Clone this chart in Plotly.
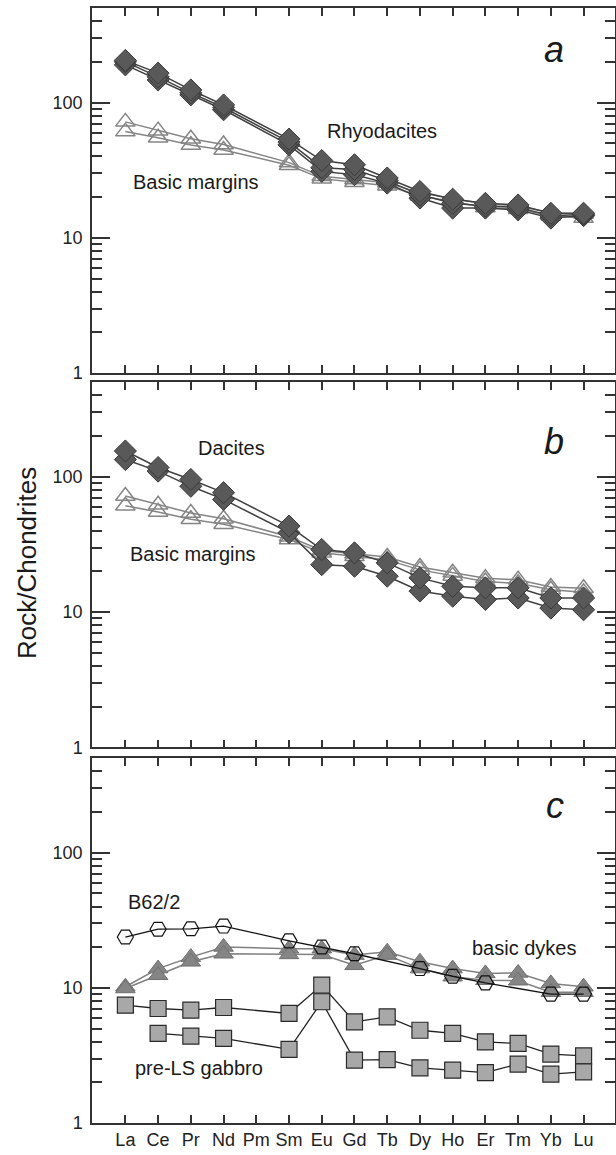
import math
import plotly.graph_objects as go

elements = ["La", "Ce", "Pr", "Nd", "Pm", "Sm", "Eu", "Gd", "Tb", "Dy", "Ho", "Er", "Tm", "Yb", "Lu"]

# Panel a: rhyodacites
rhyo_1 = [205, 165, 124, 96, None, 53.7, 37.3, 34.7, 27.7, 22.0, 19.3, 18.0, 17.5, 15.2, 15.2]
rhyo_2 = [200, 155, 118, 92, None, 51.0, 33.0, 32.0, 26.5, 20.8, 18.0, 17.2, 16.8, 14.6, 14.9]
rhyo_3 = [190, 147, 114, 88.5, None, 48.7, 31.0, 29.3, 25.4, 19.7, 16.6, 16.6, 16.1, 14.0, 14.6]

# Basic margins (panels a and b)
basic_1 = [72, 62, 54, 49, None, 36, 28.5, 27, 25.5, 21.5, 19.5, 17.8, 17.3, 15.3, 15.0]
basic_2 = [61, 55, 48.5, 44.6, None, 34.4, 27.4, 25.8, 24.3, 20.5, 18.5, 16.8, 16.3, 14.6, 14.0]

# Panel b: dacites
dac_1 = [155, 117, 95.5, 76.3, None, 43.2, 29.0, 27.4, 23.1, 17.9, 15.5, 15.1, 15.1, 12.7, 12.7]
dac_2 = [134, 110, 85, 68, None, 38.6, 22.4, 21.8, 18.4, 14.3, 13.1, 12.4, 12.7, 10.7, 10.4]

# Panel c
b62 = [23.8, 27.2, 27.4, 28.7, None, 22.3, 20.1, 17.9, None, 13.9, 12.2, 10.9, None, 9.0, 9.0]
dyke_1 = [10.2, 13.9, 16.9, 20.1, None, 19.5, 19.5, 17.5, 18.5, 15.6, 13.9, 12.8, 12.9, 10.8, 10.2]
dyke_2 = [9.9, 12.4, 15.6, 17.9, None, 17.7, 17.7, 14.7, 17.5, 13.9, 12.1, 11.4, 11.3, 9.3, 9.3]
gab_1 = [7.45, 7.04, 6.84, 7.16, None, 6.47, 10.5, 5.61, 6.11, 4.86, 4.6, 3.99, 3.88, 3.24, 3.14]
gab_2 = [None, 4.6, 4.4, 4.23, None, 3.51, 7.9, 2.92, 2.95, 2.56, 2.46, 2.36, 2.73, 2.30, 2.39]

y_ticks = [1, 10, 100]
y_tick_text = ["1", "10", "100"]

xi = list(range(len(elements)))
FONT = "Arial, Liberation Sans, sans-serif"

fig = go.Figure()


def add(vals, ax, symbol, size, fill, outline, lcolor, lw=1.5, mlw=1.2):
    fig.add_trace(go.Scatter(
        x=xi, y=vals, xaxis="x" + ax, yaxis="y" + ax,
        mode="lines+markers", connectgaps=True, showlegend=False,
        line=dict(color=lcolor, width=lw),
        marker=dict(symbol=symbol, size=size, color=fill,
                    line=dict(color=outline, width=mlw)),
    ))


DIA_FILL, DIA_LINE = "#595959", "#3a3a3a"
TRI_OPEN = "#858585"

# panel a
for s in (basic_1, basic_2):
    add(s, "", "triangle-up-open", 17, TRI_OPEN, TRI_OPEN, TRI_OPEN, 1.5, 1.5)
for s in (rhyo_3, rhyo_2, rhyo_1):
    add(s, "", "diamond", 17, DIA_FILL, DIA_LINE, "#404040", 1.5, 1)

# panel b
for s in (basic_1, basic_2):
    add(s, "2", "triangle-up-open", 17, TRI_OPEN, TRI_OPEN, TRI_OPEN, 1.5, 1.5)
for s in (dac_2, dac_1):
    add(s, "2", "diamond", 17, DIA_FILL, DIA_LINE, "#404040", 1.5, 1)

# panel c
for s in (dyke_1, dyke_2):
    add(s, "3", "triangle-up", 17, "#858585", "#707070", "#808080", 1.5, 1)
add(b62, "3", "hexagon2-open", 16, "#111111", "#111111", "#111111", 1.3, 1.2)
for s in (gab_1, gab_2):
    add(s, "3", "square", 16, "#a8a8a8", "#2a2a2a", "#222222", 1.3, 1.2)

AX = "#333333"
ylog_top = math.log10(500)
minor_vals = [2, 3, 4, 5, 6, 7, 8, 9, 20, 30, 40, 50, 60, 70, 80, 90, 200, 300, 400, 500]

domains = {"": [0.6725, 1.0], "2": [0.3369, 0.6644], "3": [0.0, 0.327]}
layout = dict(
    width=616, height=1155,
    margin=dict(l=92, r=1, t=8, b=32),
    paper_bgcolor="white", plot_bgcolor="white",
    font=dict(family=FONT, color="#222222"),
)
for k, dom in domains.items():
    ya = "yaxis" + k
    xa = "xaxis" + k
    layout[ya] = dict(
        type="log", range=[0, ylog_top], domain=dom, anchor="x" + k,
        tickvals=y_ticks, ticktext=y_tick_text, ticks="inside", ticklen=18,
        tickwidth=1.5, tickcolor=AX, showline=True, linecolor=AX, linewidth=1.5,
        mirror="ticks", showgrid=False, zeroline=False, automargin=False,
        tickfont=dict(size=18, family=FONT, color="#222222"),
        ticklabelstandoff=4,
        minor=dict(tickvals=minor_vals, ticks="inside", ticklen=10,
                   tickwidth=1.5, tickcolor=AX, showgrid=False),
    )
    layout[xa] = dict(
        range=[-1.02, 14.96], anchor="y" + k, domain=[0, 1],
        tickvals=xi, ticktext=elements, ticks="inside", ticklen=8,
        tickwidth=1.5, tickcolor=AX, showline=True, linecolor=AX, linewidth=1.5,
        mirror="ticks", showgrid=False, zeroline=False, automargin=False,
        showticklabels=(k == "3"),
        tickfont=dict(size=18, family=FONT, color="#222222"),
    )

fig.update_layout(**layout)

def note(text, x, y, ax, size=20, italic=False):
    fig.add_annotation(
        text=("<i>%s</i>" % text) if italic else text,
        x=x, y=y, xref="x" + ax, yref="y" + ax, showarrow=False,
        font=dict(size=size, family=FONT, color="#1a1a1a"),
        xanchor="center", yanchor="middle",
    )

note("Rhyodacites", 7.83, 1.79, "")
note("Basic margins", 2.17, 1.41, "")
note("a", 13.1, 2.39, "", 36, True)
note("Dacites", 3.24, 2.21, "2")
note("Basic margins", 2.06, 1.43, "2")
note("b", 13.1, 2.26, "2", 36, True)
note("B62/2", 0.87, 1.636, "3")
note("basic dykes", 12.18, 1.296, "3")
note("pre-LS gabbro", 2.24, 0.408, "3")
note("c", 13.13, 2.35, "3", 36, True)

plot_h = 1155 - 8 - 32
fig.add_annotation(
    text="Rock/Chondrites", textangle=-90,
    x=(27 - 92) / (616 - 92 - 1), y=(1155 - 32 - 563) / plot_h,
    xref="paper", yref="paper", showarrow=False,
    xanchor="center", yanchor="middle",
    font=dict(size=26, family=FONT, color="#1a1a1a"),
)

fig.write_html(
    "out.html",
    config={"displayModeBar": False},
    post_script="document.body.style.margin='0';document.body.style.overflow='hidden';",
)
